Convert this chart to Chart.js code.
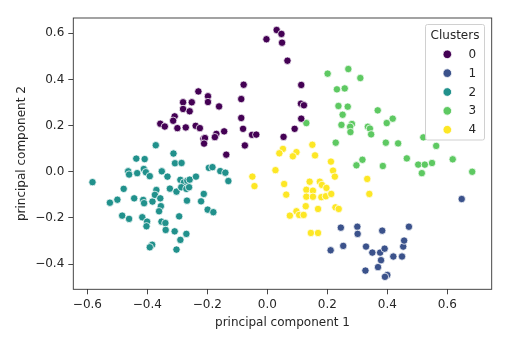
<!DOCTYPE html>
<html>
<head>
<meta charset="utf-8">
<script src="https://cdn.jsdelivr.net/npm/chart.js@4"></script>
<style>
  html, body { margin: 0; padding: 0; background: #fff; }
  #wrap { width: 520px; height: 339px; position: relative; }
</style>
</head>
<body>
<div id="wrap"><canvas id="chart" width="520" height="339"></canvas></div>
<script>
const clusterLabels = ['0', '1', '2', '3', '4'];
const clusterColors = ['#440154', '#3b528b', '#21918c', '#5ec962', '#fde725'];

const xTicks = [-0.6, -0.4, -0.2, 0.0, 0.2, 0.4, 0.6];
const yTicks = [-0.4, -0.2, 0.0, 0.2, 0.4, 0.6];

const cluster0 = [
    [-0.003, 0.574], [0.031, 0.614], [0.047, 0.597], [0.049, 0.559], [0.067, 0.481],
    [-0.079, 0.377], [0.113, 0.376], [-0.087, 0.315], [-0.161, 0.283], [0.112, 0.295],
    [0.122, 0.288], [-0.087, 0.233], [0.113, 0.230], [-0.081, 0.186], [-0.144, 0.175],
    [-0.170, 0.164], [-0.175, 0.150], [0.091, 0.186], [-0.051, 0.160], [-0.037, 0.161],
    [0.054, 0.151], [-0.075, 0.114], [-0.137, 0.074], [-0.230, 0.348], [-0.198, 0.327],
    [-0.198, 0.302], [-0.281, 0.301], [-0.252, 0.301], [-0.281, 0.272], [-0.259, 0.262],
    [-0.309, 0.240], [-0.314, 0.221], [-0.357, 0.208], [-0.342, 0.196], [-0.300, 0.189],
    [-0.272, 0.192], [-0.239, 0.199], [-0.225, 0.189], [-0.213, 0.143], [-0.208, 0.146],
    [-0.211, 0.122],
];

const cluster1 = [
    [0.648, -0.118], [0.245, -0.242], [0.300, -0.238], [0.301, -0.269], [0.383, -0.255],
    [0.472, -0.238], [0.211, -0.340], [0.253, -0.321], [0.329, -0.324], [0.350, -0.350],
    [0.376, -0.350], [0.391, -0.333], [0.379, -0.383], [0.420, -0.367], [0.449, -0.367],
    [0.453, -0.324], [0.456, -0.298], [0.369, -0.413], [0.327, -0.428], [0.400, -0.447],
    [0.392, -0.455],
];

const cluster2 = [
    [-0.372, 0.115], [-0.437, 0.057], [-0.409, 0.055], [-0.313, 0.079], [-0.308, 0.037],
    [-0.286, 0.038], [-0.195, 0.017], [-0.183, 0.020], [-0.157, 0.003], [-0.140, -0.004],
    [-0.130, -0.040], [-0.464, 0.002], [-0.461, -0.012], [-0.434, -0.006], [-0.412, 0.012],
    [-0.405, -0.002], [-0.392, -0.019], [-0.352, 0.002], [-0.333, -0.021], [-0.583, -0.045],
    [-0.479, -0.074], [-0.500, -0.121], [-0.525, -0.134], [-0.444, -0.115], [-0.414, -0.122],
    [-0.411, -0.136], [-0.383, -0.129], [-0.370, -0.079], [-0.375, -0.100], [-0.357, -0.115],
    [-0.355, -0.149], [-0.361, -0.171], [-0.325, -0.073], [-0.303, -0.086], [-0.290, -0.035],
    [-0.278, -0.046], [-0.267, -0.039], [-0.259, -0.034], [-0.287, -0.067], [-0.270, -0.074],
    [-0.261, -0.067], [-0.238, -0.021], [-0.268, -0.125], [-0.212, -0.096], [-0.221, -0.128],
    [-0.199, -0.164], [-0.180, -0.175], [-0.484, -0.190], [-0.461, -0.204], [-0.417, -0.197],
    [-0.401, -0.216], [-0.403, -0.236], [-0.353, -0.216], [-0.340, -0.222], [-0.339, -0.252],
    [-0.294, -0.193], [-0.309, -0.258], [-0.270, -0.269], [-0.290, -0.295], [-0.384, -0.316],
    [-0.392, -0.327], [-0.303, -0.337],
];

const cluster3 = [
    [0.201, 0.425], [0.270, 0.445], [0.310, 0.406], [0.232, 0.357], [0.258, 0.361],
    [0.237, 0.285], [0.268, 0.282], [0.251, 0.247], [0.368, 0.266], [0.418, 0.230],
    [0.398, 0.211], [0.130, 0.211], [0.247, 0.203], [0.282, 0.207], [0.276, 0.195],
    [0.277, 0.172], [0.335, 0.195], [0.342, 0.187], [0.346, 0.162], [0.520, 0.149],
    [0.228, 0.126], [0.395, 0.126], [0.436, 0.123], [0.563, 0.112], [0.465, 0.058],
    [0.503, 0.031], [0.525, 0.031], [0.549, 0.038], [0.618, 0.054], [0.317, 0.052],
    [0.297, 0.028], [0.385, 0.025], [0.515, -0.006], [0.683, 0.000],
];

const cluster4 = [
    [0.052, 0.099], [0.040, 0.080], [0.097, 0.085], [0.085, 0.067], [0.150, 0.117],
    [0.159, 0.071], [0.212, 0.044], [0.027, 0.007], [0.219, 0.005], [0.225, -0.021],
    [-0.050, -0.021], [-0.043, -0.062], [0.056, -0.053], [0.063, -0.099], [0.141, -0.043],
    [0.175, -0.043], [0.182, -0.057], [0.197, -0.070], [0.130, -0.078], [0.152, -0.082],
    [0.130, -0.108], [0.152, -0.108], [0.180, -0.110], [0.195, -0.106], [0.213, -0.096],
    [0.128, -0.149], [0.169, -0.161], [0.227, -0.154], [0.238, -0.161], [0.097, -0.171],
    [0.075, -0.190], [0.106, -0.187], [0.121, -0.187], [0.145, -0.265], [0.169, -0.265],
    [0.333, -0.031], [0.340, -0.096],
];

const clusters = [cluster0, cluster1, cluster2, cluster3, cluster4];

const FONT = 'DejaVu Sans';
const FONT_SIZE = 12;
const TEXT = '#262626';
const minus = (v) => (v < 0 ? '\u2212' : '') + Math.abs(v).toFixed(1);

// matplotlib-style frame around the plot area
const framePlugin = {
    id: 'frame',
    afterDraw(chart) {
        const { ctx, chartArea: a } = chart;
        ctx.save();
        ctx.strokeStyle = '#333';
        ctx.lineWidth = 0.9;
        ctx.strokeRect(a.left, a.top, a.right - a.left, a.bottom - a.top);
        ctx.restore();
    },
};

// legend box in the upper right corner, with a title
const legendPlugin = {
    id: 'clusterLegend',
    afterDraw(chart) {
        const { ctx } = chart;
        const x0 = 425.5, y0 = 24.5, w = 59, h = 115.5;
        ctx.save();
        ctx.fillStyle = 'rgba(255,255,255,0.85)';
        ctx.strokeStyle = '#d0d0d0';
        ctx.lineWidth = 1;
        ctx.beginPath();
        ctx.roundRect(x0, y0, w, h, 2);
        ctx.fill();
        ctx.stroke();

        ctx.fillStyle = TEXT;
        ctx.font = `${FONT_SIZE}px "${FONT}"`;
        ctx.textAlign = 'center';
        ctx.textBaseline = 'middle';
        ctx.fillText('Clusters', x0 + w / 2, 35.5);

        chart.data.datasets.forEach((ds, i) => {
            const y = 54.3 + i * 18.85;
            ctx.beginPath();
            ctx.arc(447.3, y, 4.3, 0, Math.PI * 2);
            ctx.fillStyle = ds.backgroundColor;
            ctx.fill();
            ctx.strokeStyle = '#fff';
            ctx.lineWidth = 0.8;
            ctx.stroke();
            ctx.fillStyle = TEXT;
            ctx.textAlign = 'left';
            ctx.fillText(ds.label, 468.5, y + 0.5);
        });
        ctx.restore();
    },
};

new Chart(document.getElementById('chart'), {
    type: 'scatter',
    data: {
        datasets: clusters.map((pts, i) => ({
            label: clusterLabels[i],
            data: pts.map(([x, y]) => ({ x, y })),
            backgroundColor: clusterColors[i],
            borderColor: '#ffffff',
            borderWidth: 0.75,
            pointRadius: 3.7,
        })),
    },
    options: {
        responsive: false,
        animation: false,
        devicePixelRatio: 1,
        layout: { padding: { top: 18, right: 28.3, left: 0, bottom: 0 } },
        plugins: {
            legend: { display: false },
            tooltip: { enabled: false },
        },
        scales: {
            x: {
                type: 'linear',
                min: -0.647,
                max: 0.748,
                afterFit: (scale) => { scale.height = 49.7; },
                afterBuildTicks: (scale) => { scale.ticks = xTicks.map((v) => ({ value: v })); },
                grid: { drawOnChartArea: false, drawTicks: true, tickLength: 5, color: '#333', tickWidth: 0.9 },
                border: { display: false },
                ticks: {
                    padding: 3,
                    color: TEXT,
                    font: { family: FONT, size: FONT_SIZE },
                    callback: (v) => minus(v),
                },
                title: {
                    display: true,
                    text: 'principal component 1',
                    color: TEXT,
                    font: { family: FONT, size: FONT_SIZE },
                    padding: { top: 0, bottom: 9 },
                },
            },
            y: {
                type: 'linear',
                min: -0.509,
                max: 0.666,
                afterFit: (scale) => { scale.width = 73.3; },
                afterBuildTicks: (scale) => { scale.ticks = yTicks.map((v) => ({ value: v })); },
                grid: { drawOnChartArea: false, drawTicks: true, tickLength: 5, color: '#333', tickWidth: 0.9 },
                border: { display: false },
                ticks: {
                    padding: 4,
                    color: TEXT,
                    font: { family: FONT, size: FONT_SIZE },
                    callback: (v) => minus(v),
                },
                title: {
                    display: true,
                    text: 'principal component 2',
                    color: TEXT,
                    font: { family: FONT, size: FONT_SIZE },
                    padding: { top: 15, bottom: 0 },
                },
            },
        },
    },
    plugins: [framePlugin, legendPlugin],
});
</script>
</body>
</html>
